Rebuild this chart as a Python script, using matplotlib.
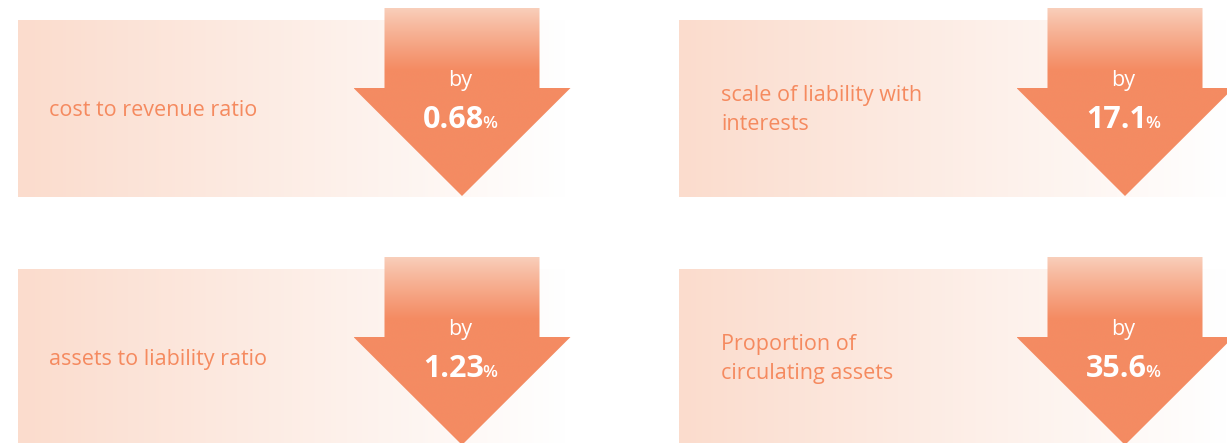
import numpy as np
import matplotlib
matplotlib.use("Agg")
import matplotlib.pyplot as plt
from matplotlib.patches import Polygon
from matplotlib.colors import to_rgb

# ---- data ----
labels = ["cost to revenue ratio",
          "scale of liability with\ninterests",
          "assets to liability ratio",
          "Proportion of\ncirculating assets"]
values = ["0.68", "17.1", "1.23", "35.6"]
prefix = "by"
unit = "%"

# ---- layout (pixel coordinates) ----
W, H = 1227, 443
fig = plt.figure(figsize=(W / 100, H / 100), dpi=100)
ax = fig.add_axes([0, 0, 1, 1])
ax.set_xlim(0, W)
ax.set_ylim(H, 0)
ax.axis("off")

panel_x = [18, 679, 18, 679]
panel_top = [20, 20, 269, 269]
panel_w = 548
panel_h = 177
text_dx = [31, 42, 31, 42]
arrow_cx = [462, 1125, 462, 1125]
arrow_top = [8, 8, 257, 257]

FONT = "Open Sans"
orange = np.array(to_rgb("#F48B62"))
light = np.array(to_rgb("#F9CFBB"))
txt_col = "#F58A5F"

p_left = np.array([251, 220, 205]) / 255
p_right = np.array([255, 255, 255]) / 255

for i in range(4):
    # panel gradient
    x0, y0 = panel_x[i], panel_top[i]
    t = np.linspace(0, 1, 256)
    grad = p_left[None, :] * (1 - t[:, None]) + p_right[None, :] * t[:, None]
    ax.imshow(grad[None, :, :], extent=[x0, x0 + panel_w, y0 + panel_h, y0],
              aspect="auto", zorder=1, interpolation="bilinear")

    # arrow
    cx, top = arrow_cx[i], arrow_top[i]
    sw, hw = 77.5, 108.5
    base = top + 80
    tip = top + 188
    verts = [(cx - sw, top), (cx + sw, top), (cx + sw, base), (cx + hw, base),
             (cx, tip), (cx - hw, base), (cx - sw, base)]
    poly = Polygon(verts, closed=True, facecolor="none", edgecolor="none", zorder=2)
    ax.add_patch(poly)
    n = 200
    ys = np.linspace(top, tip, n)
    tt = np.clip((ys - top) / 62.0, 0, 1)
    tt = tt ** 0.9
    col = light[None, :] * (1 - tt[:, None]) + orange[None, :] * tt[:, None]
    im = ax.imshow(col[:, None, :], extent=[cx - hw, cx + hw, tip, top],
                   aspect="auto", zorder=2, interpolation="bilinear")
    im.set_clip_path(poly)

    # label text
    ax.text(x0 + text_dx[i], y0 + 90, labels[i], color=txt_col, fontsize=15.5,
            family=FONT, ha="left", va="center", linespacing=1.45, zorder=3)

    # "by"
    ax.text(cx - 2, top + 78, prefix, color="white", fontsize=15.5,
            family=FONT, ha="center", va="baseline", zorder=4)

fig.canvas.draw()
renderer = fig.canvas.get_renderer()
for i in range(4):
    cx, top = arrow_cx[i], arrow_top[i]
    tnum = ax.text(0, top + 120, values[i], color="white", fontsize=22,
                   family=FONT, weight="bold", ha="left", va="baseline", zorder=4)
    tpct = ax.text(0, top + 120, unit, color="white", fontsize=12.5,
                   family=FONT, weight="semibold", ha="left", va="baseline", zorder=4)
    bn = tnum.get_window_extent(renderer)
    bp = tpct.get_window_extent(renderer)
    gap = -2
    total = bn.width + bp.width + gap
    start = cx - 2 - total / 2
    tnum.set_x(start)
    tpct.set_x(start + bn.width + gap)

fig.savefig("out.png", dpi=100)
